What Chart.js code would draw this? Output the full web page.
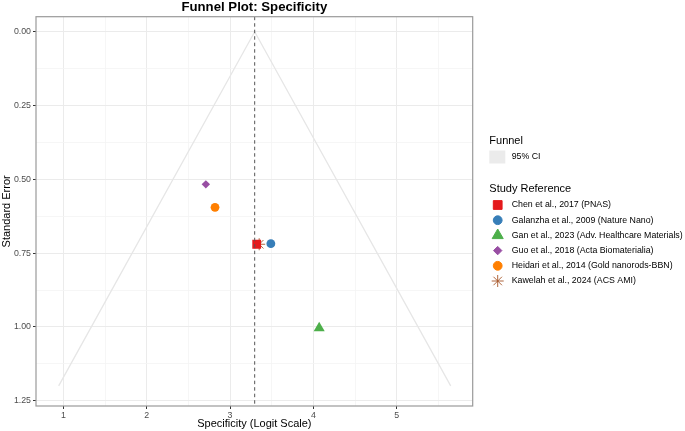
<!DOCTYPE html>
<html>
<head>
<meta charset="utf-8">
<script src="https://cdn.jsdelivr.net/npm/chart.js@4"></script>
<style>
html,body{margin:0;padding:0;background:#fff;}
canvas{display:block;}
</style>
</head>
<body>
<canvas id="c" width="685" height="431"></canvas>
<script>
// ---- data ----
const studies = [
  "Chen et al., 2017 (PNAS)",
  "Galanzha et al., 2009 (Nature Nano)",
  "Gan et al., 2023 (Adv. Healthcare Materials)",
  "Guo et al., 2018 (Acta Biomaterialia)",
  "Heidari et al., 2014 (Gold nanorods-BBN)",
  "Kawelah et al., 2024 (ACS AMI)"
];
const logitSpec = [3.32, 3.49, 4.07, 2.71, 2.82, 3.35];
const stdError  = [0.720, 0.718, 1.004, 0.517, 0.595, 0.720];
const pooled = 3.296;
const funnelX  = [0.944, 3.296, 5.648];
const funnelSE = [1.2, 0, 1.2];
const xMajorTicks = [1, 2, 3, 4, 5];
const xMinorTicks = [1.5, 2.5, 3.5, 4.5, 5.5];
const yMajorTicks = [0, 0.25, 0.5, 0.75, 1.0, 1.25];
const yTickLabels = ["0.00", "0.25", "0.50", "0.75", "1.00", "1.25"];
const yMinorTicks = [0.125, 0.375, 0.625, 0.875, 1.125];

// ---- styling ----
const FONT = "'Liberation Sans', Arial, Helvetica, sans-serif";
const colors = ["#E41A1C", "#377EB8", "#4DAF4A", "#984EA3", "#FF7F00", "#A65628"];
const styles = ["rect", "circle", "triangle", "rectRot", "circle", "star"];
const radii  = [6.2, 4.4, 6.4, 4.2, 4.4, 6];

const XMIN = 0.672, XMAX = 5.912, YMIN = -0.051, YMAX = 1.268;

const datasets = studies.map((s, i) => ({
  label: s,
  data: [{x: logitSpec[i], y: stdError[i]}],
  pointStyle: styles[i],
  pointRadius: radii[i],
  pointHoverRadius: radii[i],
  backgroundColor: colors[i],
  borderColor: colors[i],
  borderWidth: styles[i] === "star" ? 0.9 : 0,
  showLine: false,
  order: 1
}));
datasets.push({
  label: "95% CI",
  data: funnelX.map((x, i) => ({x: x, y: funnelSE[i]})),
  showLine: true,
  borderColor: "#e6e6e6",
  borderWidth: 1.3,
  pointRadius: 0,
  fill: false,
  order: 10
});
datasets.push({
  label: "pooled",
  data: [{x: pooled, y: YMIN}, {x: pooled, y: YMAX}],
  showLine: true,
  borderColor: "#555555",
  borderWidth: 1,
  borderDash: [3.5, 3],
  pointRadius: 0,
  order: -1
});

const isIn = (arr, v) => arr.some(a => Math.abs(a - v) < 1e-6);

const decor = {
  id: "decor",
  afterDatasetsDraw(chart) {
    const ctx = chart.ctx, a = chart.chartArea;
    ctx.save();
    ctx.strokeStyle = "#9a9a9a";
    ctx.lineWidth = 1.2;
    ctx.strokeRect(a.left, a.top, a.right - a.left, a.bottom - a.top);
    ctx.restore();
  },
  afterDraw(chart) {
    const ctx = chart.ctx, a = chart.chartArea;
    ctx.save();
    ctx.fillStyle = "#000";
    // title
    ctx.font = "bold 13.2px " + FONT;
    ctx.textAlign = "center";
    ctx.textBaseline = "middle";
    ctx.fillText("Funnel Plot: Specificity", (a.left + a.right) / 2, 7);
    // x title
    ctx.font = "11px " + FONT;
    ctx.fillText("Specificity (Logit Scale)", (a.left + a.right) / 2, 424);
    // y title
    ctx.save();
    ctx.translate(6.5, (a.top + a.bottom) / 2);
    ctx.rotate(-Math.PI / 2);
    ctx.fillText("Standard Error", 0, 0);
    ctx.restore();

    // legend
    const lx = 489.3;
    ctx.textAlign = "left";
    ctx.font = "11px " + FONT;
    ctx.fillText("Funnel", lx, 141);
    ctx.fillStyle = "#ebebeb";
    ctx.fillRect(lx, 150.5, 16, 13);
    ctx.fillStyle = "#000";
    ctx.font = "8.8px " + FONT;
    ctx.fillText("95% CI", 511.7, 157);
    ctx.font = "11px " + FONT;
    ctx.fillText("Study Reference", lx, 189);
    ctx.font = "8.8px " + FONT;
    for (let i = 0; i < studies.length; i++) {
      const y = 205 + i * 15.2;
      ctx.fillStyle = colors[i];
      ctx.strokeStyle = colors[i];
      ctx.lineWidth = styles[i] === "star" ? 0.9 : 0;
      Chart.helpers.drawPoint(ctx, {pointStyle: styles[i], radius: radii[i], rotation: 0, borderWidth: ctx.lineWidth}, 497.7, y);
      ctx.fillStyle = "#000";
      ctx.fillText(studies[i], 511.7, y);
    }
    ctx.restore();
  }
};

new Chart(document.getElementById("c"), {
  type: "scatter",
  data: {datasets: datasets},
  options: {
    responsive: false,
    devicePixelRatio: 1,
    animation: false,
    layout: {padding: {top: 16.7, right: 212.3, bottom: 0, left: 0}},
    plugins: {legend: {display: false}, title: {display: false}, tooltip: {enabled: false}},
    scales: {
      x: {
        type: "linear", min: XMIN, max: XMAX,
        afterBuildTicks: s => { s.ticks = xMajorTicks.concat(xMinorTicks).sort((p, q) => p - q).map(v => ({value: v})); },
        afterFit: s => { s.height = 25; },
        border: {display: false},
        grid: {
          color: c => isIn(xMajorTicks, c.tick.value) ? "#ebebeb" : "#f4f4f4",
          lineWidth: c => isIn(xMajorTicks, c.tick.value) ? 1 : 0.8,
          tickColor: c => isIn(xMajorTicks, c.tick.value) ? "#333" : "rgba(0,0,0,0)",
          tickLength: 3,
          tickWidth: 1
        },
        ticks: {
          autoSkip: false, maxRotation: 0, padding: 1.5,
          color: "#4d4d4d", font: {family: FONT, size: 8.8},
          callback: v => isIn(xMajorTicks, v) ? String(xMajorTicks.find(t => Math.abs(t - v) < 1e-6)) : ""
        }
      },
      y: {
        type: "linear", min: YMIN, max: YMAX, reverse: true,
        afterBuildTicks: s => { s.ticks = yMajorTicks.concat(yMinorTicks).sort((p, q) => p - q).map(v => ({value: v})); },
        afterFit: s => { s.width = 36; },
        border: {display: false},
        grid: {
          color: c => isIn(yMajorTicks, c.tick.value) ? "#ebebeb" : "#f4f4f4",
          lineWidth: c => isIn(yMajorTicks, c.tick.value) ? 1 : 0.8,
          tickColor: c => isIn(yMajorTicks, c.tick.value) ? "#333" : "rgba(0,0,0,0)",
          tickLength: 3,
          tickWidth: 1
        },
        ticks: {
          autoSkip: false, padding: 2,
          color: "#4d4d4d", font: {family: FONT, size: 8.8},
          callback: v => { const k = yMajorTicks.findIndex(t => Math.abs(t - v) < 1e-6); return k >= 0 ? yTickLabels[k] : ""; }
        }
      }
    }
  },
  plugins: [decor]
});
</script>
</body>
</html>
